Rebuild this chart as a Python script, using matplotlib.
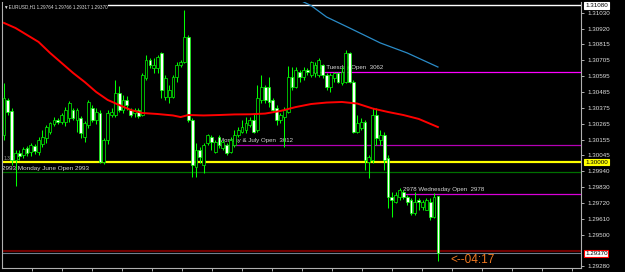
import numpy as np
from matplotlib import pyplot as plt
from matplotlib.transforms import blended_transform_factory

# EURUSD H1 candles, oldest first
opens = [
    1.30186, 1.30428, 1.30352, 1.30014, 1.30062, 1.30048, 1.30097, 1.30069, 1.30110, 1.30069,
    1.30124, 1.30166, 1.30207, 1.30262, 1.30290, 1.30276, 1.30276, 1.30303, 1.30359, 1.30290,
    1.30303, 1.30172, 1.30255, 1.30372, 1.30290, 1.30338, 1.30000, 1.30152, 1.30324, 1.30324,
    1.30476, 1.30359, 1.30428, 1.30359, 1.30338, 1.30359, 1.30324, 1.30579, 1.30703, 1.30648,
    1.30648, 1.30752, 1.30448, 1.30448, 1.30448, 1.30586, 1.30669, 1.30690, 1.30862, 1.30290,
    1.29966, 1.30083, 1.29979, 1.30131, 1.30172, 1.30069, 1.30172, 1.30097, 1.30117, 1.30069,
    1.30117, 1.30186, 1.30207, 1.30221, 1.30255, 1.30290, 1.30221, 1.30428, 1.30517, 1.30517,
    1.30428, 1.30372, 1.30290, 1.30310, 1.30345, 1.30586, 1.30517, 1.30621, 1.30586, 1.30634,
    1.30600, 1.30614, 1.30600, 1.30669, 1.30600, 1.30517, 1.30579, 1.30614, 1.30545, 1.30552,
    1.30752, 1.30552, 1.30207, 1.30234, 1.30276, 1.30000, 1.30014, 1.30324, 1.30152, 1.30186,
    1.30028, 1.29759, 1.29724, 1.29759, 1.29793, 1.29759, 1.29738, 1.29648, 1.29738, 1.29690,
    1.29669, 1.29724, 1.29621, 1.29764]
highs = [
    1.30545, 1.30441, 1.30372, 1.30083, 1.30083, 1.30103, 1.30110, 1.30131, 1.30124, 1.30172,
    1.30221, 1.30255, 1.30276, 1.30310, 1.30303, 1.30338, 1.30379, 1.30421, 1.30372, 1.30372,
    1.30317, 1.30283, 1.30428, 1.30393, 1.30372, 1.30359, 1.30166, 1.30359, 1.30372, 1.30566,
    1.30524, 1.30462, 1.30455, 1.30372, 1.30372, 1.30372, 1.30614, 1.30738, 1.30717, 1.30717,
    1.30738, 1.30759, 1.30600, 1.30531, 1.30600, 1.30690, 1.30703, 1.31048, 1.30876, 1.30303,
    1.30131, 1.30103, 1.30131, 1.30193, 1.30186, 1.30152, 1.30186, 1.30152, 1.30131, 1.30172,
    1.30221, 1.30241, 1.30290, 1.30310, 1.30310, 1.30338, 1.30531, 1.30600, 1.30531, 1.30586,
    1.30441, 1.30393, 1.30338, 1.30379, 1.30662, 1.30655, 1.30655, 1.30634, 1.30655, 1.30648,
    1.30697, 1.30690, 1.30717, 1.30676, 1.30614, 1.30614, 1.30621, 1.30621, 1.30655, 1.30772,
    1.30759, 1.30566, 1.30324, 1.30303, 1.30290, 1.30048, 1.30372, 1.30372, 1.30221, 1.30207,
    1.30048, 1.29793, 1.29793, 1.29821, 1.29807, 1.29772, 1.29752, 1.29793, 1.29752, 1.29738,
    1.29752, 1.29752, 1.29786, 1.29766]
lows = [
    1.30152, 1.30324, 1.29979, 1.29834, 1.30014, 1.30028, 1.30041, 1.30041, 1.30055, 1.30048,
    1.30103, 1.30131, 1.30193, 1.30248, 1.30262, 1.30262, 1.30248, 1.30276, 1.30290, 1.30207,
    1.30166, 1.30138, 1.30234, 1.30276, 1.30262, 1.29993, 1.29986, 1.30124, 1.30310, 1.30310,
    1.30345, 1.30338, 1.30359, 1.30310, 1.30310, 1.30303, 1.30317, 1.30566, 1.30648, 1.30614,
    1.30614, 1.30441, 1.30428, 1.30407, 1.30441, 1.30552, 1.30655, 1.30683, 1.30276, 1.29897,
    1.29897, 1.29993, 1.29924, 1.30117, 1.30083, 1.30062, 1.30097, 1.30083, 1.30048, 1.30062,
    1.30103, 1.30172, 1.30200, 1.30200, 1.30241, 1.30200, 1.30207, 1.30407, 1.30407, 1.30379,
    1.30345, 1.30255, 1.30269, 1.30103, 1.30338, 1.30497, 1.30510, 1.30552, 1.30566, 1.30600,
    1.30586, 1.30586, 1.30586, 1.30579, 1.30497, 1.30483, 1.30552, 1.30545, 1.30531, 1.30545,
    1.30545, 1.30200, 1.30200, 1.30221, 1.29945, 1.29890, 1.29993, 1.30117, 1.30117, 1.29945,
    1.29683, 1.29621, 1.29717, 1.29738, 1.29745, 1.29703, 1.29634, 1.29634, 1.29669, 1.29669,
    1.29669, 1.29600, 1.29614, 1.29317]
closes = [
    1.30441, 1.30345, 1.30014, 1.30062, 1.30041, 1.30090, 1.30062, 1.30117, 1.30076, 1.30152,
    1.30172, 1.30241, 1.30269, 1.30290, 1.30276, 1.30324, 1.30359, 1.30407, 1.30303, 1.30359,
    1.30200, 1.30269, 1.30414, 1.30290, 1.30345, 1.30000, 1.30152, 1.30338, 1.30345, 1.30476,
    1.30359, 1.30428, 1.30393, 1.30324, 1.30359, 1.30317, 1.30600, 1.30703, 1.30669, 1.30669,
    1.30724, 1.30497, 1.30579, 1.30497, 1.30586, 1.30669, 1.30690, 1.30862, 1.30290, 1.29979,
    1.30083, 1.30034, 1.30117, 1.30186, 1.30138, 1.30138, 1.30117, 1.30138, 1.30062, 1.30152,
    1.30186, 1.30221, 1.30241, 1.30269, 1.30290, 1.30207, 1.30441, 1.30517, 1.30428, 1.30414,
    1.30359, 1.30290, 1.30324, 1.30359, 1.30586, 1.30517, 1.30634, 1.30586, 1.30634, 1.30621,
    1.30690, 1.30669, 1.30703, 1.30600, 1.30517, 1.30600, 1.30614, 1.30552, 1.30621, 1.30752,
    1.30552, 1.30207, 1.30269, 1.30276, 1.30014, 1.30034, 1.30324, 1.30166, 1.30186, 1.30014,
    1.29759, 1.29738, 1.29772, 1.29807, 1.29759, 1.29724, 1.29648, 1.29724, 1.29724, 1.29724,
    1.29738, 1.29621, 1.29759, 1.29370]

# moving averages, read at a few bars
ma_slow_idx = [0, 3, 6, 9, 12, 15, 18, 21, 24, 27, 30, 33, 36, 40, 44, 46, 48, 52, 56, 60, 64,
               68, 72, 76, 80, 84, 88, 92, 96, 100, 104, 108, 113]
ma_slow = [1.30959, 1.30924, 1.30876, 1.30828, 1.30752, 1.30683, 1.30614, 1.30552, 1.30483,
           1.30428, 1.30393, 1.30359, 1.30338, 1.30331, 1.30321, 1.30310, 1.30324, 1.30321,
           1.30324, 1.30328, 1.30329, 1.30334, 1.30352, 1.30379, 1.30400, 1.30410, 1.30414,
           1.30403, 1.30369, 1.30345, 1.30324, 1.30297, 1.30241]
ma_fast_idx = [73, 77, 80, 84, 90, 98, 105, 113]
ma_fast = [1.31172, 1.31117, 1.31078, 1.31000, 1.30924, 1.30821, 1.30752, 1.30655]

# day open lines
day_labels = ["Monday & July Open  3012", "3062 Tuesday Open  3062", "2978 Wednesday Open  2978"]
day_levels = [1.3012, 1.3062, 1.2978]
day_start = [56, 80, 104]
day_colors = ["#b400b4", "#ff00ff", "#d800d8"]

june_label = "2993 Monday June Open 2993"
june_level = 1.2993
round_level = 1.3000
top_level = 1.3108
bid, ask = 1.29370, 1.29388

price_ticks = [1.31030, 1.30920, 1.30815, 1.30705, 1.30595, 1.30485, 1.30375, 1.30265,
               1.30155, 1.30045, 1.29940, 1.29830, 1.29720, 1.29610, 1.29500, 1.29280]

title = "EURUSD,H1 1.29764 1.29766 1.29317 1.29370"
countdown = "<--04:17"

FONT = ["Liberation Sans", "DejaVu Sans"]
GREEN = "#00ff00"

plt.rcParams["font.family"] = FONT

fig = plt.figure(figsize=(6.25, 2.72), dpi=100, facecolor="black")
ax = fig.add_axes([2 / 625, 4 / 272, 579 / 625, 266 / 272])
ax.set_facecolor("black")
ax.set_xlim(-0.52, 150.26)
ax.set_ylim(1.29269, 1.311034)

idx = np.arange(len(opens))
o, h, l, c = map(np.array, (opens, highs, lows, closes))
yx = blended_transform_factory(ax.transAxes, ax.transData)

# horizontal objects
ax.axhline(top_level, xmin=0.172, color="white", lw=1.0, zorder=1)
ax.axhline(round_level, color="#ffff00", lw=1.6, zorder=1)
ax.axhline(june_level, color="#007000", lw=0.9, zorder=1)
ax.axhline(ask, color="#700000", lw=1.5, zorder=1)
ax.axhline(bid, color="#708090", lw=0.8, zorder=1)
ax.text(0.003, round_level + 0.00022, "1.30000", transform=yx,
        fontsize=3.4, color="#a0a0a0", va="center", zorder=2)
ax.text(0.0, june_level + 0.00028, june_label, transform=yx,
        fontsize=4.6, color="#d8d8d8", va="center", zorder=2)

for label, level, start, col in zip(day_labels, day_levels, day_start, day_colors):
    ax.hlines(level, start, ax.get_xlim()[1], color=col, lw=0.9, zorder=1)
    ax.text(start, level + 0.00030, label, fontsize=4.4, color="#d8d8d8", va="center", zorder=2)

# candles
ax.vlines(idx, l, h, colors=GREEN, lw=0.75, zorder=3)
body_lo = np.minimum(o, c)
body_h = np.maximum(np.abs(c - o), 0.00002)
fills = ["black" if cc >= oo else "white" for oo, cc in zip(o, c)]
ax.bar(idx, body_h, bottom=body_lo, width=0.72, color=fills, edgecolor=GREEN, linewidth=0.5, zorder=4)

# indicators
ax.plot(ma_slow_idx, ma_slow, color="#ff0000", lw=1.4, zorder=5)
ax.plot(ma_fast_idx, ma_fast, color="#2a8cc8", lw=0.9, zorder=5)

ax.text(116.2, 1.29324, countdown, fontsize=8.5, color="#f07820", va="center", zorder=5)
ax.text(0.003, 0.993, "\u25bc" + title, transform=ax.transAxes, fontsize=3.3, color="#e0e0e0",
        va="top", ha="left", zorder=6,
        bbox=dict(facecolor="black", edgecolor="none", pad=0.4))

# axes styling, MT4 look
ax.spines["top"].set_visible(False)
for side in ("left", "bottom", "right"):
    ax.spines[side].set_color("#b0b0b0")
    ax.spines[side].set_linewidth(0.8)

ax.yaxis.tick_right()
ax.set_yticks(price_ticks)
ax.set_yticklabels([f"{p:.5f}" for p in price_ticks])
ax.tick_params(axis="y", direction="out", length=2, width=0.7, color="#b0b0b0",
               labelsize=4.5, labelcolor="#e0e0e0", pad=2.5)
ax.set_xticks(np.arange(7.2, 150, 7.8125))
ax.set_xticklabels([])
ax.tick_params(axis="x", direction="out", length=2, width=0.7, color="#b0b0b0")

for level, text, face, edge in [(top_level, "1.31080", "white", "white"),
                                (round_level, "1.30000", "#ffff00", "#ffff00"),
                                (bid, "1.29370", "white", "#ff0000")]:
    ax.text(1.007, level, text, transform=yx, fontsize=4.5, color="black", va="center", ha="left",
            zorder=7, clip_on=False,
            bbox=dict(facecolor=face, edgecolor=edge, pad=0.6, linewidth=0.8))

fig.savefig("out.png", dpi=100, facecolor="black")
